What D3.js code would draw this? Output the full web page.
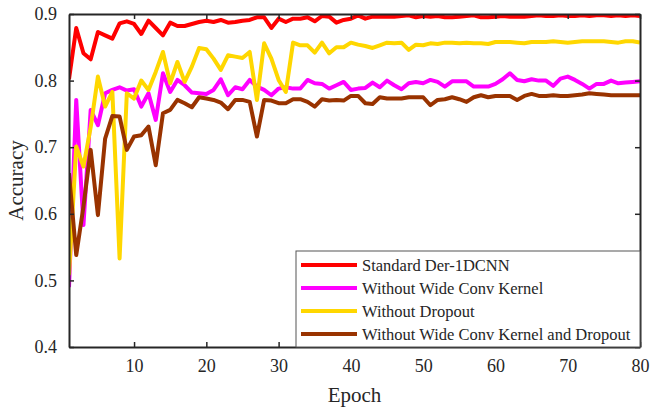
<!DOCTYPE html>
<html>
<head>
<meta charset="utf-8">
<script src="https://cdn.jsdelivr.net/npm/d3@7"></script>
<style>
	body{margin:0;background:#fff;}
	text{font-family:"Liberation Serif","Times New Roman",serif;fill:#262626;}
</style>
</head>
<body>
<div id="container"></div>
<script>
var epochs = d3.range(1,81);

var standard = [0.802,0.879,0.841,0.832,0.873,0.868,0.863,0.886,0.889,0.885,
	0.870,0.890,0.879,0.868,0.887,0.882,0.882,0.885,0.888,0.890,
	0.888,0.891,0.887,0.888,0.890,0.891,0.895,0.895,0.879,0.893,
	0.888,0.893,0.893,0.895,0.889,0.897,0.896,0.887,0.891,0.893,
	0.898,0.893,0.896,0.896,0.896,0.896,0.897,0.898,0.895,0.897,
	0.896,0.897,0.895,0.895,0.896,0.897,0.898,0.895,0.895,0.896,
	0.897,0.896,0.896,0.896,0.897,0.898,0.897,0.897,0.898,0.897,
	0.897,0.898,0.897,0.898,0.898,0.897,0.898,0.897,0.898,0.897];

var noWide = [0.490,0.771,0.583,0.756,0.733,0.781,0.786,0.790,0.785,0.787,
	0.761,0.781,0.741,0.811,0.783,0.801,0.793,0.782,0.781,0.780,
	0.786,0.802,0.778,0.790,0.787,0.801,0.791,0.786,0.778,0.788,
	0.790,0.788,0.788,0.801,0.796,0.795,0.788,0.793,0.798,0.786,
	0.788,0.789,0.797,0.790,0.800,0.793,0.787,0.796,0.798,0.796,
	0.801,0.798,0.791,0.799,0.799,0.799,0.791,0.791,0.791,0.795,
	0.802,0.811,0.801,0.799,0.802,0.800,0.800,0.792,0.803,0.806,
	0.801,0.795,0.788,0.795,0.795,0.800,0.796,0.797,0.798,0.799];

var noDropout = [0.508,0.701,0.671,0.730,0.806,0.761,0.783,0.533,0.781,0.773,
	0.800,0.786,0.813,0.843,0.796,0.828,0.798,0.821,0.849,0.847,
	0.833,0.816,0.838,0.836,0.834,0.843,0.771,0.856,0.833,0.801,
	0.783,0.857,0.853,0.853,0.842,0.857,0.841,0.850,0.850,0.857,
	0.854,0.852,0.849,0.853,0.857,0.856,0.857,0.846,0.854,0.853,
	0.856,0.855,0.857,0.857,0.856,0.857,0.856,0.856,0.855,0.858,
	0.858,0.858,0.857,0.856,0.858,0.858,0.858,0.859,0.858,0.857,
	0.858,0.859,0.859,0.859,0.859,0.858,0.857,0.859,0.859,0.857];

var noBoth = [0.661,0.538,0.611,0.696,0.598,0.713,0.747,0.746,0.696,0.716,
	0.718,0.731,0.673,0.751,0.756,0.771,0.766,0.760,0.775,0.773,
	0.771,0.767,0.757,0.771,0.771,0.768,0.716,0.771,0.770,0.766,
	0.766,0.772,0.772,0.768,0.761,0.772,0.770,0.771,0.770,0.777,
	0.777,0.766,0.765,0.775,0.773,0.773,0.773,0.775,0.775,0.775,
	0.763,0.771,0.772,0.775,0.772,0.768,0.775,0.778,0.775,0.777,
	0.777,0.777,0.771,0.777,0.780,0.777,0.777,0.778,0.777,0.777,
	0.778,0.779,0.781,0.780,0.779,0.778,0.778,0.778,0.778,0.778];

var seriesNames = ['Standard Der-1DCNN','Without Wide Conv Kernel','Without Dropout','Without Wide Conv Kernel and Dropout'];
var seriesColors = ['#FF0000','#FF00FF','#FFD700','#993300'];
var xTicks = [10,20,30,40,50,60,70,80];
var yTicks = [0.4,0.5,0.6,0.7,0.8,0.9];

var init = function(){

	return {

		w:667,
		h:409,

		data:[],

		processData:function(){
			var self = vis;

			[standard,noWide,noDropout,noBoth].forEach(function(vals,i){
				self.data.push({
					name:seriesNames[i],
					color:seriesColors[i],
					values:vals.map(function(v,j){ return {epoch:epochs[j],acc:v}; })
				});
			});

			self.generate();
		},
		generate:function(){
			var self = vis;

			var margin = { top:14, right:27, bottom:62, left:69 },
				width = self.w -margin.left -margin.right,
				height = self.h -margin.top -margin.bottom;

			self.svg = d3.select('#container').append('svg')
				.attr('width',self.w)
				.attr('height',self.h);

			var g = self.svg.append('g')
				.attr('transform','translate(' +margin.left +',' +margin.top +')');

			var x = d3.scaleLinear().domain([1,80]).range([0,width]);
			var y = d3.scaleLinear().domain([0.4,0.9]).range([height,0]);

			g.append('clipPath').attr('id','clip')
				.append('rect').attr('width',width).attr('height',height);

			var line = d3.line()
				.x(function(d){ return x(d.epoch); })
				.y(function(d){ return y(d.acc); });

			g.append('g').attr('clip-path','url(#clip)')
				.selectAll('path.series')
				.data(self.data)
				.enter().append('path')
				.classed('series',true)
				.attr('d',function(d){ return line(d.values); })
				.attr('fill','none')
				.attr('stroke',function(d){ return d.color; })
				.attr('stroke-width',4)
				.attr('stroke-linejoin','round');

			// axes, ticks pointing inward on all four sides
			var fmt = d3.format('.1f');
			var xAxis = g.append('g')
				.attr('transform','translate(0,' +height +')')
				.call(d3.axisBottom(x).tickValues(xTicks).tickSizeInner(-5).tickSizeOuter(0).tickPadding(12));
			var xTop = g.append('g')
				.call(d3.axisTop(x).tickValues(xTicks).tickSizeInner(-5).tickSizeOuter(0).tickFormat(''));
			var yAxis = g.append('g')
				.call(d3.axisLeft(y).tickValues(yTicks).tickSizeInner(-5).tickSizeOuter(0).tickPadding(12).tickFormat(fmt));
			var yRight = g.append('g')
				.attr('transform','translate(' +width +',0)')
				.call(d3.axisRight(y).tickValues(yTicks).tickSizeInner(-5).tickSizeOuter(0).tickFormat(''));

			[xAxis,xTop,yAxis,yRight].forEach(function(a){
				a.select('.domain').attr('stroke','#262626').attr('stroke-width',2);
				a.selectAll('.tick line').attr('stroke','#262626').attr('stroke-width',1.5);
				a.selectAll('.tick text')
					.style('font-family','"Liberation Serif","Times New Roman",serif')
					.style('font-size','18px')
					.attr('fill','#262626');
			});

			g.append('text')
				.attr('x',width/2)
				.attr('y',height +55)
				.attr('text-anchor','middle')
				.style('font-size','21px')
				.text('Epoch');

			g.append('text')
				.attr('transform','translate(-46,' +height/2 +') rotate(-90)')
				.attr('text-anchor','middle')
				.style('font-size','21px')
				.text('Accuracy');

			// legend
			var lg = g.append('g')
				.attr('transform','translate(' +(width -344) +',' +(height -96) +')');
			lg.append('rect')
				.attr('width',344)
				.attr('height',96)
				.attr('fill','#fff')
				.attr('stroke','#555')
				.attr('stroke-width',1);

			var items = lg.selectAll('g.item')
				.data(self.data)
				.enter().append('g')
				.classed('item',true)
				.attr('transform',function(d,i){ return 'translate(0,' +(14 +i*23) +')'; });
			items.append('line')
				.attr('x1',5).attr('x2',61)
				.attr('stroke',function(d){ return d.color; })
				.attr('stroke-width',4);
			items.append('text')
				.attr('x',66)
				.attr('dy','0.35em')
				.style('font-size','16.5px')
				.text(function(d){ return d.name; });
		}
	}
}

var vis = init();
vis.processData();
</script>
</body>
</html>
